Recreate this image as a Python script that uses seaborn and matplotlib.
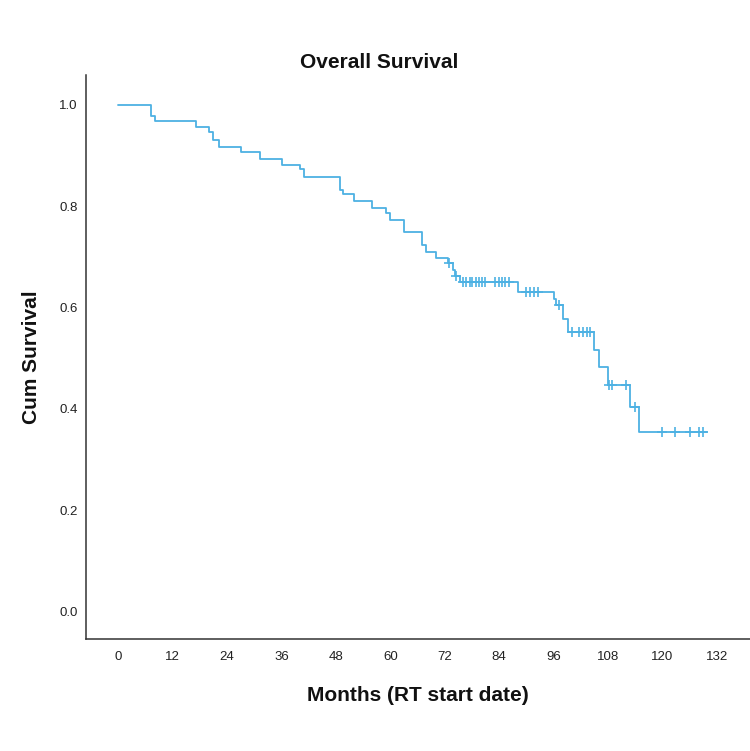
import numpy as np
import pandas as pd
import matplotlib
matplotlib.use("Agg")
import matplotlib.pyplot as plt
import seaborn as sns

# ---- data ----
event_times = [7.2, 8.0, 17.1, 20.1, 20.9, 22.1, 27.1, 31.2, 36.2, 40.1, 41.0,
               48.9, 49.5, 52.0, 55.9, 59.1, 60.0, 63.1, 67.0, 67.9, 70.1,
               72.6, 73.7, 74.3, 75.3, 88.1, 96.1, 96.5, 98.1, 99.1,
               105.0, 106.1, 108.0, 112.9, 114.9]
event_surv = [0.977, 0.967, 0.955, 0.945, 0.930, 0.917, 0.906, 0.892, 0.881, 0.873, 0.857,
              0.832, 0.823, 0.809, 0.797, 0.786, 0.772, 0.748, 0.724, 0.710, 0.698,
              0.687, 0.674, 0.662, 0.651, 0.631, 0.616, 0.604, 0.577, 0.552,
              0.516, 0.483, 0.448, 0.404, 0.354]
end_time = 129.8
censor_times = [72.9, 74.5,
                76.1, 76.7, 77.5, 78.1, 78.9, 79.6, 80.3, 80.9,
                83.1, 83.9, 84.6, 85.3, 86.1,
                90.0, 90.7, 91.6, 92.5,
                97.1,
                100.0, 101.7, 102.5, 103.3, 104.1,
                108.2, 108.9, 112.0,
                114.0,
                119.9, 122.8, 126.0, 128.0, 128.9]
x_ticks = [0, 12, 24, 36, 48, 60, 72, 84, 96, 108, 120, 132]
y_ticks = [0.0, 0.2, 0.4, 0.6, 0.8, 1.0]

title = "Overall Survival"
x_label = "Months (RT start date)"
y_label = "Cum Survival"

# ---- build tables ----
steps = pd.DataFrame({
    "month": [0.0] + event_times + [end_time],
    "surv": [1.0] + event_surv + [event_surv[-1]],
})
level = np.array([1.0] + event_surv)
cens = pd.DataFrame({
    "month": censor_times,
    "surv": level[np.searchsorted(event_times, censor_times, side="right")],
})

sns.set_style("white")
plt.rcParams["font.family"] = ["Liberation Sans", "DejaVu Sans"]

W, H = 750, 751
fig = plt.figure(figsize=(W / 100, H / 100), dpi=100)
ax = fig.add_axes([86 / W, (H - 639) / H, (W - 86) / W, (639 - 75) / H])

line_color = "#4DB1E3"
sns.lineplot(data=steps, x="month", y="surv", drawstyle="steps-post",
             estimator=None, sort=False, color=line_color, linewidth=1.3, ax=ax)
sns.scatterplot(data=cens, x="month", y="surv", marker="+", s=62,
                color=line_color, linewidth=1.2, ax=ax, zorder=3)

ax.set_xlim(-7.12, 139.3)
ax.set_ylim(-0.0534, 1.0583)
ax.set_xticks(x_ticks)
ax.set_xticklabels([str(v) for v in x_ticks])
ax.set_yticks(y_ticks)
ax.set_yticklabels([f"{v:.1f}" for v in y_ticks])
ax.tick_params(axis="both", length=0, labelsize=9.5, colors="#222222")
ax.tick_params(axis="x", pad=9)
ax.tick_params(axis="y", pad=6)

for side in ["top", "right"]:
    ax.spines[side].set_visible(False)
for side in ["left", "bottom"]:
    ax.spines[side].set_color("#333333")
    ax.spines[side].set_linewidth(1.1)

ax.set_xlabel(x_label, fontsize=15, fontweight="bold", labelpad=16, color="#111111")
ax.set_ylabel(y_label, fontsize=15, fontweight="bold", labelpad=13, color="#111111")
fig.text(379 / W, 1 - 63 / H, title, fontsize=15, fontweight="bold",
         ha="center", va="center", color="#111111")

fig.savefig("out.png", dpi=100)
